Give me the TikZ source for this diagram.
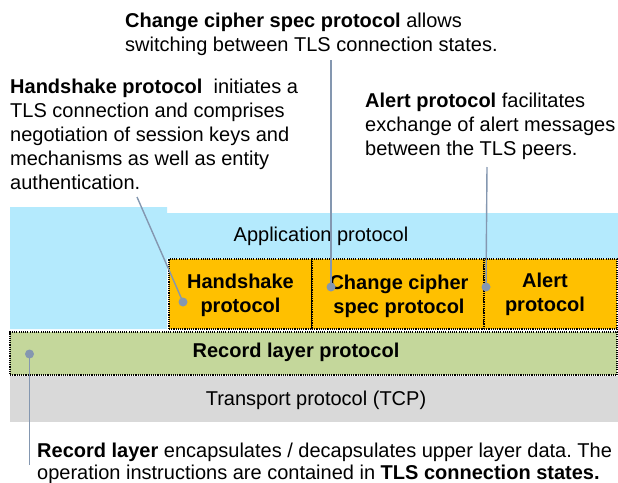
\documentclass[tikz,border=0pt]{standalone}
\usepackage{fontspec}
\setmainfont{Liberation Sans}
\frenchspacing
\definecolor{appblue}{RGB}{180,234,253}
\definecolor{orng}{RGB}{255,192,0}
\definecolor{recgreen}{RGB}{196,215,155}
\definecolor{tcpgray}{RGB}{217,217,217}
\definecolor{connc}{RGB}{132,151,176}
\tikzset{
  txt/.style={font=\fontsize{20}{24}\selectfont, inner sep=0pt},
  btxt/.style={font=\fontsize{20}{24.5}\selectfont\bfseries, inner sep=0pt, align=center},
  para/.style={txt, anchor=north west, align=left},
  layerbox/.style={draw=black, line width=1.1pt, dash pattern=on 1.1pt off 1.1pt, inner sep=0pt},
  connline/.style={draw=connc, line width=1.4pt},
  pin/.style={circle, fill=connc, minimum size=9pt, inner sep=0pt},
}
\begin{document}
\begin{tikzpicture}[x=1pt,y=-1pt]
\useasboundingbox (0,0) rectangle (618,482);
% application protocol (L-shaped)
\fill[appblue] (10,207) -- (167,207) -- (167,213) -- (618,213) -- (618,258.5) -- (167,258.5) -- (167,329) -- (10,329) -- cycle;
\node[txt] (app) at (321,236) {Application protocol};
% upper protocols
\node[layerbox, fill=orng, minimum width=143pt, minimum height=70pt] (hsbox) at (240.5,294) {};
\node[layerbox, fill=orng, minimum width=172pt, minimum height=70pt] (ccbox) at (398,294) {};
\node[layerbox, fill=orng, minimum width=133pt, minimum height=70pt] (albox) at (550.5,294) {};
\node[btxt] (hslbl) at (240.5,295.5) {Handshake\\protocol};
\node[btxt] (cclbl) at (399,296.5) {Change cipher\\spec protocol};
\node[btxt] (allbl) at (545,294.5) {Alert\\protocol};
% record layer
\node[layerbox, fill=recgreen, minimum width=607pt, minimum height=43pt] (rec) at (313.5,353.5) {};
\node[btxt] (reclbl) at (296,352.5) {Record layer protocol};
% transport
\fill[tcpgray] (10,376) rectangle (618,422);
\node[txt] (tcp) at (316,400) {Transport protocol (TCP)};
% descriptions
\node[para] (cctxt) at (125,12.5) {\textbf{Change cipher spec protocol} allows\\switching between TLS connection states.};
\node[para] (hstxt) at (10,79) {\textbf{Handshake protocol}~ initiates a\\TLS connection and comprises\\negotiation of session keys and\\mechanisms as well as entity\\authentication.};
\node[para] (altxt) at (365,93) {\textbf{Alert protocol} facilitates\\exchange of alert messages\\between the TLS peers.};
\node[para, font=\fontsize{20}{22}\selectfont] (rltxt) at (37,442.5) {\textbf{Record layer} encapsulates / decapsulates upper layer data. The\\operation instructions are contained in \textbf{TLS connection states.}};
% connectors
\coordinate (hsend) at (137,197);
\coordinate (ccend) at (331,60);
\coordinate (alend) at (487,167);
\coordinate (rlend) at (29.5,465);
\node[pin] (hspin) at (183,302) {};
\node[pin] (ccpin) at (331,287) {};
\node[pin] (alpin) at (486,287) {};
\node[pin] (rlpin) at (29.5,354) {};
\draw[connline] (hsend) -- (hspin.center);
\draw[connline] (ccend) -- (ccpin.center);
\draw[connline] (alend) -- (alpin.center);
\draw[connline] (rlend) -- (rlpin.center);
\end{tikzpicture}
\end{document}
